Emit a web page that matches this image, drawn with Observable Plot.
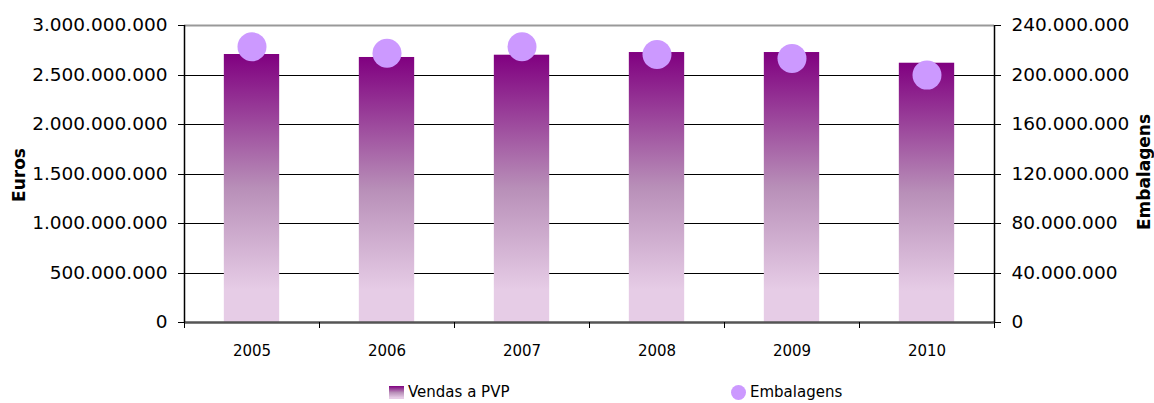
<!DOCTYPE html>
<html>
<head>
<meta charset="utf-8">
<script src="https://cdn.jsdelivr.net/npm/d3@7"></script>
<script src="https://cdn.jsdelivr.net/npm/@observablehq/plot@0.6"></script>
<style>
  html, body { margin: 0; padding: 0; background: #fff; }
  #wrap { position: relative; width: 1154px; height: 403px; font-family: "DejaVu Sans", sans-serif; }
  .leg { position: absolute; top: 383px; font-size: 15px; color: #000; display: flex; align-items: center; white-space: nowrap; }
  .sq { width: 15px; height: 13px; background: linear-gradient(#800080, #b88fb8 50%, #e6cce6 90%); margin-right: 4px; }
  .ci { width: 15px; height: 15px; border-radius: 50%; background: #cc99ff; margin-right: 4px; }
</style>
</head>
<body>
<div id="wrap"></div>
<script>
const years = [2005, 2006, 2007, 2008, 2009, 2010];
const vendas = [2.707e9, 2.677e9, 2.700e9, 2.727e9, 2.727e9, 2.619e9];
const embalagens = [222.8e6, 217.6e6, 222.8e6, 216.6e6, 213.3e6, 199.9e6];
const euroTicks = [0, 5e8, 1e9, 1.5e9, 2e9, 2.5e9, 3e9];
const embTicks = [0, 40e6, 80e6, 120e6, 160e6, 200e6, 240e6];
const seriesNames = ["Vendas a PVP", "Embalagens"];
const axisTitles = ["Euros", "Embalagens"];

const ratio = euroTicks[euroTicks.length - 1] / embTicks[embTicks.length - 1];
const data = years.map((year, i) => ({year, vendas: vendas[i], emb: embalagens[i]}));
const boundaries = [years[0] - 0.5, ...years.map(y => y + 0.5)];
const fmt = d3.formatLocale({decimal: ",", thousands: ".", grouping: [3], currency: ["", "€"]}).format(",d");

const chart = Plot.plot({
  width: 1154,
  height: 370,
  marginLeft: 184,
  marginRight: 160,
  marginTop: 25,
  marginBottom: 48,
  style: {fontFamily: "DejaVu Sans, sans-serif", color: "#000", background: "#fff"},
  x: {domain: [boundaries[0], boundaries[boundaries.length - 1]]},
  y: {domain: [euroTicks[0], euroTicks[euroTicks.length - 1]]},
  marks: [
    Plot.ruleY(euroTicks.slice(1, -1), {stroke: "#000", strokeWidth: 1, shapeRendering: "crispEdges"}),
    Plot.rectY(data, {x1: d => d.year - 0.205, x2: d => d.year + 0.205, y: "vendas", fill: "url(#barGrad)"}),
    Plot.ruleY([euroTicks[euroTicks.length - 1]], {stroke: "#999", strokeWidth: 2}),
    Plot.ruleY([0], {stroke: "#555", strokeWidth: 2.5}),
    Plot.ruleX([boundaries[0]], {stroke: "#000", strokeWidth: 1.5}),
    Plot.ruleX([boundaries[boundaries.length - 1]], {stroke: "#000", strokeWidth: 1.5}),
    Plot.dot(data, {x: "year", y: d => d.emb * ratio, r: 14.5, fill: "#cc99ff", stroke: "none"}),
    Plot.axisY(euroTicks, {anchor: "left", tickSize: 6, tickPadding: 11, tickFormat: fmt, fontSize: 18.5, label: null, stroke: "#000", shapeRendering: "crispEdges"}),
    Plot.axisY(embTicks.map(d => d * ratio), {anchor: "right", tickSize: 6, tickPadding: 11, tickFormat: d => fmt(Math.round(d / ratio)), fontSize: 18.5, label: null, stroke: "#000", shapeRendering: "crispEdges"}),
    Plot.axisX(boundaries, {tickSize: 6, tickFormat: () => "", label: null, stroke: "#000"}),
    Plot.axisX(years, {tickSize: 0, tickPadding: 23, tickFormat: d => String(d), fontSize: 15, label: null})
  ]
});

const svg = d3.select(chart);
const defs = svg.insert("defs", ":first-child");
const grad = defs.append("linearGradient").attr("id", "barGrad").attr("x1", 0).attr("y1", 0).attr("x2", 0).attr("y2", 1);
[[0, "#800080"], [0.5, "#b88fb8"], [0.88, "#e6cce6"], [1, "#e6cce6"]].forEach(([o, c]) =>
  grad.append("stop").attr("offset", o).attr("stop-color", c));

svg.append("text").text(axisTitles[0])
  .attr("transform", "translate(25,175) rotate(-90)")
  .attr("text-anchor", "middle").attr("font-weight", "bold").attr("font-size", 17).attr("fill", "#000");
svg.append("text").text(axisTitles[1])
  .attr("transform", "translate(1150,172) rotate(-90)")
  .attr("text-anchor", "middle").attr("font-weight", "bold").attr("font-size", 17).attr("fill", "#000");

const wrap = document.getElementById("wrap");
wrap.appendChild(chart);

const l1 = document.createElement("div");
l1.className = "leg"; l1.style.left = "389px";
l1.innerHTML = `<span class="sq"></span><span>${seriesNames[0]}</span>`;
const l2 = document.createElement("div");
l2.className = "leg"; l2.style.left = "731px";
l2.innerHTML = `<span class="ci"></span><span>${seriesNames[1]}</span>`;
wrap.appendChild(l1);
wrap.appendChild(l2);
</script>
</body>
</html>
